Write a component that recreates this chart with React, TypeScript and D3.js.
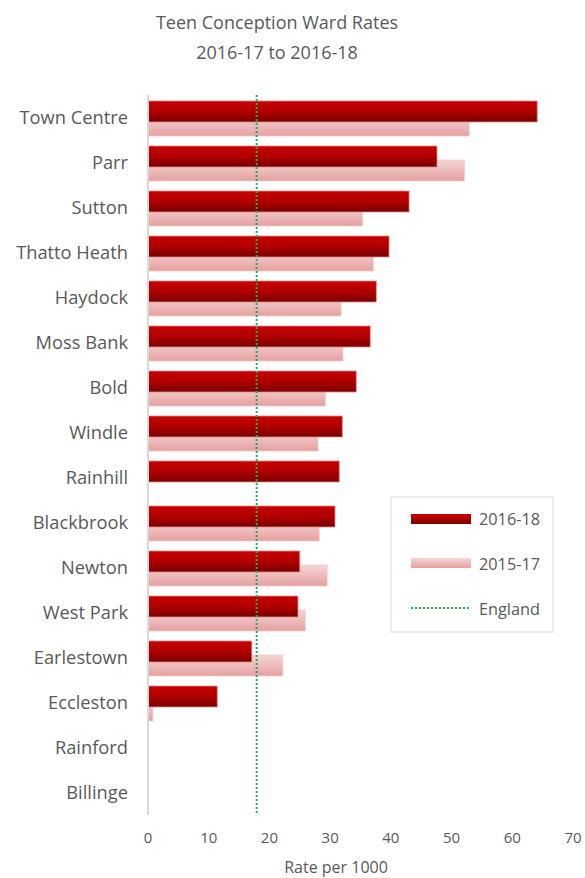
import React from "react";
import * as d3 from "d3";

const wards = ["Town Centre","Parr","Sutton","Thatto Heath","Haydock","Moss Bank","Bold","Windle","Rainhill","Blackbrook","Newton","West Park","Earlestown","Eccleston","Rainford","Billinge"];
const rate1618 = [64.1,47.6,43.0,39.7,37.6,36.6,34.3,32.0,31.5,30.8,25.0,24.7,17.1,11.4,0,0];
const rate1517 = [52.9,52.1,35.3,37.1,31.8,32.1,29.2,28.0,0,28.2,29.5,25.9,22.2,0.8,0,0];
const england = 17.9;
const xTicks = [0,10,20,30,40,50,60,70];
const titleLines = ["Teen Conception Ward Rates","2016-17 to 2016-18"];
const legendLabels = ["2016-18","2015-17","England"];

const FONT = "'Open Sans', 'Liberation Sans', Arial, sans-serif";
const TXT = "#595959";

export default function App() {
  const W = 585, H = 878;
  const left = 148, right = 573, top = 95, bottom = 815;
  const x = d3.scaleLinear().domain([0, 70]).range([left, right]);
  const y = d3.scaleBand().domain(wards).range([top, bottom]);
  const bw = y.bandwidth();
  const barH = 21;
  const darkOff = 6, lightOff = 20;

  return (
    <svg width={W} height={H} style={{ position: "absolute", left: 0, top: 0, background: "#fff" }}>
      <defs>
        <linearGradient id="gDark" x1="0" y1="0" x2="0" y2="1">
          <stop offset="0" stopColor="#c80000" />
          <stop offset="0.5" stopColor="#b00000" />
          <stop offset="1" stopColor="#780000" />
        </linearGradient>
        <linearGradient id="gLight" x1="0" y1="0" x2="0" y2="1">
          <stop offset="0" stopColor="#f4d6d6" />
          <stop offset="1" stopColor="#e6a0a0" />
        </linearGradient>
      </defs>
      <rect width={W} height={H} fill="#fff" />
      {titleLines.map((t, i) => (
        <text key={t} x={277} y={29 + i * 30} textAnchor="middle" fontFamily={FONT} fontSize={18} fill={TXT}>{t}</text>
      ))}
      {wards.map((w, i) => {
        const y0 = y(w)!;
        return (
          <g key={w}>
            {rate1517[i] > 0 && (
              <rect x={x(0)} y={y0 + lightOff} width={x(rate1517[i]) - x(0)} height={barH} fill="url(#gLight)" stroke="#f0c8c8" strokeWidth={0.8} />
            )}
            {rate1618[i] > 0 && (
              <rect x={x(0)} y={y0 + darkOff} width={x(rate1618[i]) - x(0)} height={barH} fill="url(#gDark)" stroke="#e08a8a" strokeWidth={0.8} />
            )}
            <text x={128} y={y0 + bw / 2 + 6.5} textAnchor="end" fontFamily={FONT} fontSize={18.3} fill={TXT}>{w}</text>
          </g>
        );
      })}
      <line x1={x(0)} x2={x(0)} y1={top} y2={bottom} stroke="#d9d9d9" strokeWidth={2} />
      <line x1={x(england)} x2={x(england)} y1={top} y2={bottom} stroke="#1fb050" strokeWidth={2} strokeDasharray="2,2" />
      {xTicks.map(t => (
        <text key={t} x={x(t)} y={843} textAnchor="middle" fontFamily={FONT} fontSize={15} fill={TXT}>{t}</text>
      ))}
      <text x={336} y={873} textAnchor="middle" fontFamily={FONT} fontSize={16} fill={TXT}>Rate per 1000</text>
      <rect x={391} y={497} width={162} height={135} fill="#fff" stroke="#d9d9d9" strokeWidth={1} />
      <rect x={411} y={514} width={60} height={10} fill="url(#gDark)" />
      <rect x={411} y={558} width={60} height={10} fill="url(#gLight)" />
      <line x1={411} x2={471} y1={608} y2={608} stroke="#1fb050" strokeWidth={2} strokeDasharray="2,2" />
      {legendLabels.map((l, i) => (
        <text key={l} x={479} y={525 + i * 45} fontFamily={FONT} fontSize={16.3} fill={TXT}>{l}</text>
      ))}
    </svg>
  );
}
